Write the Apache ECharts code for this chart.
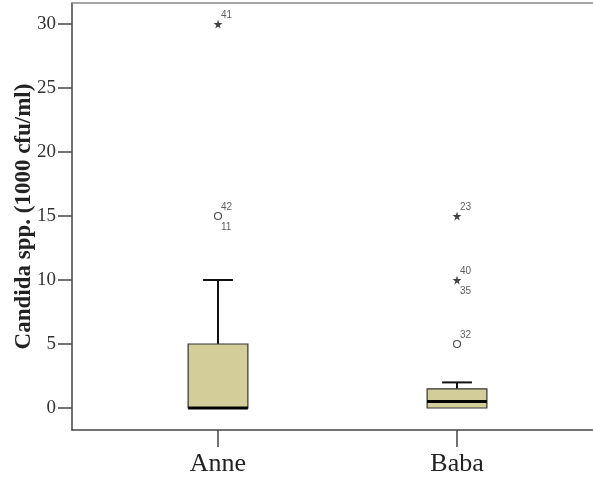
<!DOCTYPE html>
<html>
<head>
<meta charset="utf-8">
<script src="https://cdn.jsdelivr.net/npm/echarts@6/dist/echarts.min.js"></script>
<style>
  html, body { margin: 0; padding: 0; background: #ffffff; }
  #chart { width: 593px; height: 479px; }
</style>
</head>
<body>
<div id="chart"></div>
<script>
// Groups on the horizontal axis (placed at x = 1, 2)
const categories = ['Anne', 'Baba'];
const categoryPos = [1, 2];

// Box statistics per group: [min whisker, Q1, median, Q3, max whisker]
const anneStats = [0, 0, 0, 5, 10];
const babaStats = [0, 0, 0.5, 1.5, 2];

// Outliers (circles): [group position, value, upper case id, lower case id]
const outliers = [
  [1, 15, '42', '11'],
  [2, 5, '32', '']
];
// Extreme values (stars): [group position, value, upper case id, lower case id]
const extremes = [
  [1, 30, '41', ''],
  [2, 15, '23', ''],
  [2, 10, '40', '35']
];

// Y axis tick values
const yTicks = [0, 5, 10, 15, 20, 25, 30];

const boxData = [
  [categoryPos[0]].concat(anneStats),
  [categoryPos[1]].concat(babaStats)
];

const STAR = 'path://M50,0 L61,35 L98,35 L68,57 L79,91 L50,70 L21,91 L32,57 L2,35 L39,35 Z';

function renderBox(params, api) {
  const x = api.value(0);
  const lo = api.value(1), q1 = api.value(2), med = api.value(3), q3 = api.value(4), hi = api.value(5);
  const unit = api.size([1, 0])[0];
  const half = unit * 0.125;
  const capHalf = unit * 0.0625;
  const pLo = api.coord([x, lo]);
  const pQ1 = api.coord([x, q1]);
  const pMed = api.coord([x, med]);
  const pQ3 = api.coord([x, q3]);
  const pHi = api.coord([x, hi]);
  const cx = pQ1[0];
  const children = [];
  const lineStyle = { stroke: '#111', lineWidth: 2 };
  if (hi > q3) {
    children.push({ type: 'line', shape: { x1: cx, y1: pQ3[1], x2: cx, y2: pHi[1] }, style: lineStyle });
    children.push({ type: 'line', shape: { x1: cx - capHalf, y1: pHi[1], x2: cx + capHalf, y2: pHi[1] }, style: lineStyle });
  }
  if (lo < q1) {
    children.push({ type: 'line', shape: { x1: cx, y1: pQ1[1], x2: cx, y2: pLo[1] }, style: lineStyle });
    children.push({ type: 'line', shape: { x1: cx - capHalf, y1: pLo[1], x2: cx + capHalf, y2: pLo[1] }, style: lineStyle });
  }
  children.push({
    type: 'rect',
    shape: { x: cx - half, y: pQ3[1], width: half * 2, height: pQ1[1] - pQ3[1] },
    style: { fill: '#D3CE99', stroke: '#333', lineWidth: 1.2 }
  });
  children.push({
    type: 'line',
    shape: { x1: cx - half, y1: pMed[1], x2: cx + half, y2: pMed[1] },
    style: { stroke: '#000', lineWidth: 3 }
  });
  return { type: 'group', children: children };
}

const idFont = { fontFamily: 'Liberation Sans', fontSize: 10, color: '#333' };

// Case-number labels beside outliers; the anchor points themselves are invisible
function idLabelSeries(points, which, offsetY) {
  return {
    type: 'scatter',
    symbol: 'circle',
    symbolSize: 4,
    itemStyle: { color: 'rgba(0,0,0,0)' },
    silent: true,
    z: 5,
    data: points.filter(p => p[which]).map(p => ({
      value: [p[0], p[1]],
      label: {
        show: true,
        formatter: p[which],
        position: 'inside',
        align: 'left',
        verticalAlign: 'middle',
        offset: [3, offsetY],
        ...idFont
      }
    }))
  };
}

const axisColor = '#444';

const chart = echarts.init(document.getElementById('chart'), null, { renderer: 'canvas' });

chart.setOption({
  animation: false,
  backgroundColor: '#ffffff',
  grid: {
    left: 72, top: 3, right: 0, bottom: 49, show: false,
    containLabel: false, outerBoundsMode: 'none'
  },
  xAxis: [
    {
      type: 'value',
      min: 0.3891,
      max: 2.569,
      splitLine: { show: false },
      axisLine: { show: true, onZero: false, lineStyle: { color: axisColor, width: 1.5 } },
      axisTick: {
        show: true, customValues: categoryPos, length: 17, inside: false,
        lineStyle: { color: axisColor, width: 1.5 }
      },
      axisLabel: {
        show: true, customValues: categoryPos,
        formatter: v => categories[categoryPos.indexOf(Math.round(v))] || '',
        fontFamily: 'Liberation Serif', fontSize: 26, color: '#222', margin: 21
      }
    },
    {
      // frame line along the top of the plot
      type: 'value',
      position: 'top',
      min: 0.3891,
      max: 2.569,
      splitLine: { show: false },
      axisLine: { show: true, onZero: false, lineStyle: { color: '#888', width: 1.5 } },
      axisTick: { show: false },
      axisLabel: { show: false }
    }
  ],
  yAxis: {
    type: 'value',
    min: -1.719,
    max: 31.64,
    name: 'Candida spp. (1000 cfu/ml)',
    nameLocation: 'middle',
    nameRotate: 90,
    nameGap: 36,
    nameMoveOverlap: false,
    nameTextStyle: {
      fontFamily: 'Liberation Serif', fontSize: 23, fontWeight: 'bold', color: '#222'
    },
    splitLine: { show: false },
    axisLine: { show: true, onZero: false, lineStyle: { color: axisColor, width: 1.5 } },
    axisTick: {
      show: true, customValues: yTicks, length: 14, inside: false,
      lineStyle: { color: axisColor, width: 1.5 }
    },
    axisLabel: {
      show: true, customValues: yTicks,
      fontFamily: 'Liberation Serif', fontSize: 19, color: '#333', margin: 16
    }
  },
  series: [
    {
      type: 'custom',
      renderItem: renderBox,
      data: boxData,
      encode: { x: 0, y: [1, 2, 3, 4, 5] },
      z: 2
    },
    {
      type: 'scatter',
      symbol: 'circle',
      symbolSize: 7,
      itemStyle: { color: '#fff', borderColor: '#222', borderWidth: 1.2 },
      data: outliers.map(p => [p[0], p[1]]),
      z: 4
    },
    {
      type: 'scatter',
      symbol: STAR,
      symbolSize: 9,
      itemStyle: { color: '#111' },
      data: extremes.map(p => [p[0], p[1]]),
      z: 4
    },
    idLabelSeries(outliers.concat(extremes), 2, -9),
    idLabelSeries(outliers.concat(extremes), 3, 11)
  ]
});
</script>
</body>
</html>
